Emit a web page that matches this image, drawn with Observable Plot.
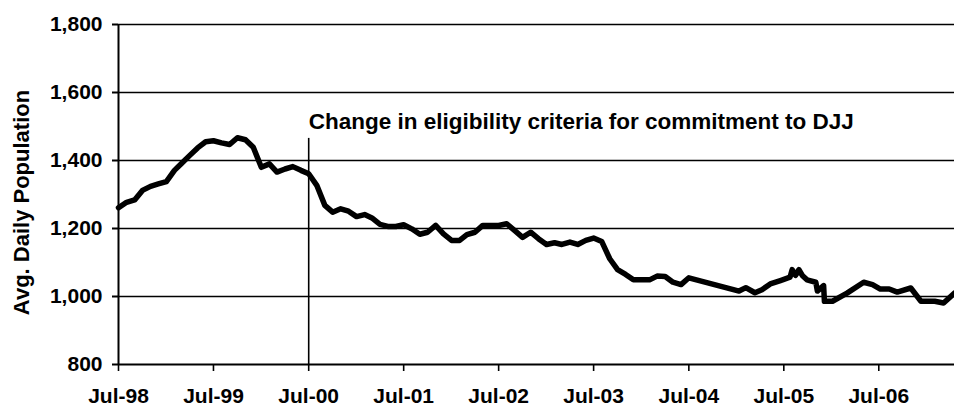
<!DOCTYPE html>
<html><head><meta charset="utf-8">
<script src="https://cdn.jsdelivr.net/npm/d3@7"></script>
<script src="https://cdn.jsdelivr.net/npm/@observablehq/plot@0.6"></script>
<style>html,body{margin:0;padding:0;background:#fff}</style>
</head><body><div id="chart"></div>
<script>
const dates = [
"1998-07-01","1998-08-01","1998-09-01","1998-10-01","1998-11-01","1998-12-01",
"1999-01-01","1999-02-01","1999-03-01","1999-04-01","1999-05-01","1999-06-01",
"1999-07-01","1999-08-01","1999-09-01","1999-10-01","1999-11-01","1999-12-01",
"2000-01-01","2000-02-01","2000-03-01","2000-04-01","2000-05-01","2000-06-01",
"2000-07-01","2000-08-01","2000-09-01","2000-10-01","2000-11-01","2000-12-01",
"2001-01-01","2001-02-01","2001-03-01","2001-04-01","2001-05-01","2001-06-01",
"2001-07-01","2001-08-01","2001-09-01","2001-10-01","2001-11-01","2001-12-01",
"2002-01-01","2002-02-01","2002-03-01","2002-04-01","2002-05-01","2002-06-01",
"2002-07-01","2002-08-01","2002-09-01","2002-10-01","2002-11-01","2002-12-01",
"2003-01-01","2003-02-01","2003-03-01","2003-04-01","2003-05-01","2003-06-01",
"2003-07-01","2003-08-01","2003-09-01","2003-10-01","2003-11-01","2003-12-01",
"2004-01-01","2004-02-01","2004-03-01","2004-04-01","2004-05-01","2004-06-01",
"2004-07-01",
"2005-01-10","2005-02-05","2005-03-12","2005-04-08","2005-05-10","2005-06-18",
"2005-07-25","2005-08-02","2005-08-15","2005-08-28","2005-09-10","2005-09-28",
"2005-11-01","2005-11-07","2005-12-01","2005-12-04","2006-01-04","2006-03-01",
"2006-05-04","2006-06-07","2006-07-07","2006-08-10","2006-09-10","2006-11-01",
"2006-12-10","2007-02-01","2007-03-07","2007-04-18"
];
const values = [
1261,1277,1284,1312,1324,1331,
1338,1371,1392,1415,1437,1455,
1458,1452,1447,1467,1461,1439,
1380,1390,1366,1375,1382,1371,
1361,1327,1268,1248,1258,1251,
1235,1241,1231,1212,1206,1206,
1211,1199,1183,1189,1209,1184,
1165,1165,1182,1189,1209,1209,
1209,1214,1194,1174,1189,1170,
1153,1158,1153,1160,1153,1165,
1172,1162,1111,1079,1065,1049,
1049,1049,1060,1059,1042,1035,
1055,
1016,1026,1011,1020,1037,1047,
1057,1079,1062,1079,1062,1049,
1042,1016,1032,986,986,1010,
1042,1035,1022,1022,1013,1025,
986,986,981,1010
];
const yTicks = [800, 1000, 1200, 1400, 1600, 1800];
const xTickDates = ["1998-07-01","1999-07-01","2000-07-01","2001-07-01","2002-07-01","2003-07-01","2004-07-01","2005-07-01","2006-07-01"];
const yLabel = "Avg. Daily Population";
const annotationText = "Change in eligibility criteria for commitment to DJJ";
const annotationDate = "2000-07-01";
const annotationLineTop = 1465;
const annotationTextValue = 1515;

const parse = d3.utcParse("%Y-%m-%d");
const rows = dates.map((d, i) => ({date: parse(d), value: values[i]}));
const xTicks = xTickDates.map(parse);
const annDate = parse(annotationDate);
const font = "'Liberation Sans', Arial, Helvetica, sans-serif";

const chart = Plot.plot({
  width: 954,
  height: 408,
  marginLeft: 118,
  marginRight: 0,
  marginTop: 24,
  marginBottom: 44,
  style: {fontFamily: font, fontSize: "21px", fontWeight: "bold", color: "black", background: "white", overflow: "visible"},
  x: {type: "utc", domain: d3.extent(rows, d => d.date)},
  y: {domain: [yTicks[0], yTicks[yTicks.length - 1]]},
  marks: [
    Plot.ruleY(yTicks.slice(1), {stroke: "black", strokeWidth: 1.6}),
    Plot.ruleY([yTicks[0]], {stroke: "black", strokeWidth: 2}),
    Plot.ruleX([rows[0].date], {stroke: "black", strokeWidth: 2}),
    Plot.axisY({ticks: yTicks, tickSize: 6, tickPadding: 10, tickFormat: d3.format(","), label: null, strokeWidth: 2, fontSize: 21}),
    Plot.axisX({ticks: xTicks, tickSize: 7, tickPadding: 17, tickFormat: d3.utcFormat("%b-%y"), label: null, strokeWidth: 1.6, fontSize: 21}),
    Plot.ruleX([annDate], {y1: yTicks[0], y2: annotationLineTop, stroke: "black", strokeWidth: 1.6}),
    Plot.text([{d: annDate, v: annotationTextValue, t: annotationText}], {x: "d", y: "v", text: "t", textAnchor: "start", fontSize: 22.5, fontWeight: "bold", fill: "black"}),
    Plot.text([yLabel], {frameAnchor: "left", textAnchor: "middle", lineAnchor: "middle", dx: -97, dy: 8, rotate: -90, text: d => d, fontSize: 22, fontWeight: "bold", fill: "black"}),
    Plot.line(rows, {x: "date", y: "value", stroke: "black", strokeWidth: 5.5, strokeLinejoin: "round", strokeLinecap: "round"})
  ]
});
document.getElementById("chart").appendChild(chart);
</script>
</body></html>
